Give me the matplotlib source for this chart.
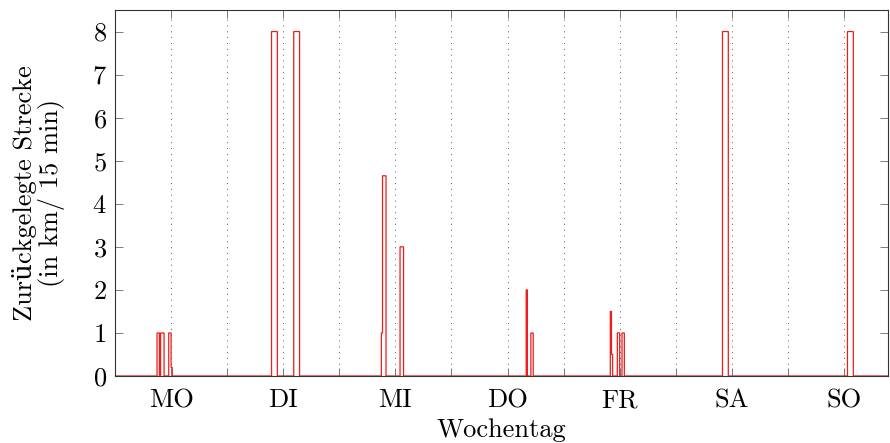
import matplotlib.pyplot as plt
import numpy as np

plt.rcParams['font.family'] = ['cmr10', 'DejaVu Serif']
plt.rcParams['mathtext.fontset'] = 'cm'
plt.rcParams['axes.formatter.use_mathtext'] = True

# distance per 15-min slot, slot 0 = Monday 00:00
n_slots = 662
days = ['MO', 'DI', 'MI', 'DO', 'FR', 'SA', 'SO']

# (first slot, values) of every non-zero run
mo_runs = [(36, [1, 1]), (39, [1, 1, 1]), (46, [1, 1, 0.2])]
di_runs = [(134, [8, 8, 8, 8, 8]), (153, [8, 8, 8, 8, 8])]
mi_runs = [(228, [1, 4.65, 4.65, 4.65]), (244, [3, 3, 3])]
do_runs = [(352, [2]), (356, [1, 1])]
fr_runs = [(424, [1.5, 0.5]), (430, [1, 1]), (434, [1, 1])]
sa_runs = [(520, [8, 8, 8, 8, 8])]
so_runs = [(627, [8, 8, 8, 8, 8])]

dist = np.zeros(n_slots)
for runs in [mo_runs, di_runs, mi_runs, do_runs, fr_runs, sa_runs, so_runs]:
    for start, vals in runs:
        dist[start:start + len(vals)] = vals

fig = plt.figure(figsize=(8.9, 4.43), dpi=100)
ax = fig.add_axes([115/890, 67/443, 773/890, 366/443])

ax.stairs(dist, np.arange(n_slots + 1), color='#ee1c1c', lw=0.9)

ax.set_xlim(0, 661.7)
ax.set_ylim(0, 8.5)
ax.set_xticks(48 + 96*np.arange(7))
ax.set_xticklabels(days)
ax.set_xticks(96*np.arange(1, 7), minor=True)
ax.set_yticks(np.arange(9))
ax.grid(True, which='both', axis='x', linestyle=(0, (1, 5)), color='0.35', lw=0.7)
ax.tick_params(which='both', direction='in', top=True, right=True,
               length=6, width=0.6, color='0.4', labelsize=19)
ax.tick_params(axis='x', pad=9)
ax.tick_params(axis='y', pad=6)
for s in ax.spines.values():
    s.set_linewidth(0.8)
    s.set_color('0.2')

ax.set_xlabel('Wochentag', fontsize=19, labelpad=4)
ax.set_ylabel('Zurückgelegte Strecke\n(in km/ 15 min)', fontsize=19,
              labelpad=19, linespacing=1.05)

fig.savefig('out.png', dpi=100)
